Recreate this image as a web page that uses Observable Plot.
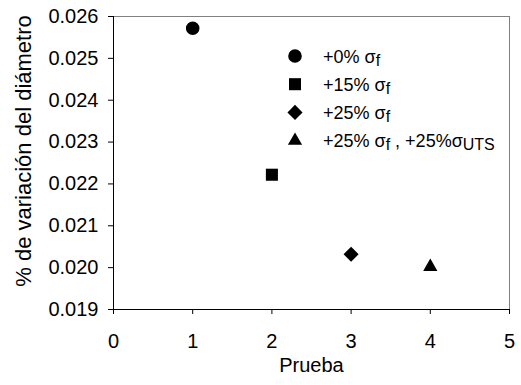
<!DOCTYPE html>
<html>
<head>
<meta charset="utf-8">
<script src="https://cdn.jsdelivr.net/npm/d3@7"></script>
<script src="https://cdn.jsdelivr.net/npm/@observablehq/plot@0.6"></script>
<style>
  html, body { margin: 0; padding: 0; background: #fff; }
  #chart { width: 521px; height: 385px; }
</style>
</head>
<body>
<div id="chart"></div>
<script>
// ---- data ----
const prueba = [1, 2, 3, 4];
const variacion = [0.02572, 0.02222, 0.02032, 0.02002];
const seriesLabels = ["+0% σ_{f}", "+15% σ_{f}", "+25% σ_{f}", "+25% σ_{f} , +25%σ_{UTS}"];
const seriesSymbols = ["circle", "square", "diamond2", "triangle2"];
const xTicks = [0, 1, 2, 3, 4, 5];
const yTicks = [0.019, 0.020, 0.021, 0.022, 0.023, 0.024, 0.025, 0.026];
const xLabel = "Prueba";
const yLabel = "% de variación del diámetro";

const points = prueba.map((p, i) => ({x: p, y: variacion[i], symbol: seriesSymbols[i], label: seriesLabels[i]}));
const xDomain = [xTicks[0], xTicks[xTicks.length - 1]];
const yDomain = [yTicks[0], yTicks[yTicks.length - 1]];

const FONT = "'Liberation Sans', Arial, sans-serif";
const R = 6.8;

const svg = Plot.plot({
  width: 521,
  height: 385,
  marginLeft: 113,
  marginRight: 12,
  marginTop: 16,
  marginBottom: 76,
  style: {fontFamily: FONT, fontSize: "20px", color: "#000", background: "#fff", overflow: "visible"},
  x: {domain: xDomain, ticks: xTicks, tickFormat: d3.format("d"), tickSize: 5, tickPadding: 19, label: null},
  y: {domain: yDomain, ticks: yTicks, tickFormat: d3.format(".3f"), tickSize: 5, tickPadding: 10, label: null},
  symbol: {type: "identity"},
  marks: [
    Plot.ruleY([yDomain[1]], {stroke: "#808080"}),
    Plot.ruleX([xDomain[1]], {stroke: "#808080"}),
    Plot.ruleY([yDomain[0]], {stroke: "#000"}),
    Plot.ruleX([xDomain[0]], {stroke: "#000"}),
    Plot.dot(points, {x: "x", y: "y", symbol: "symbol", r: R, fill: "#000", stroke: "none"}),
    Plot.text([xLabel], {text: d => d, frameAnchor: "bottom", textAnchor: "middle", dy: 62, fontSize: 20, fill: "#000"}),
    Plot.text([yLabel], {text: d => d, frameAnchor: "left", textAnchor: "middle", rotate: -90, dx: -90, dy: -12, fontSize: 22, fill: "#000"})
  ]
});

// ---- legend ----
const symbolMap = {
  circle: d3.symbolCircle,
  square: d3.symbolSquare,
  diamond2: d3.symbolDiamond2 || d3.symbolDiamond,
  triangle2: d3.symbolTriangle2 || d3.symbolTriangle
};
const legendX = 295, legendTextX = 323, legendTop = 56, legendStep = 28.2;
const lg = d3.select(svg).append("g")
  .attr("font-family", FONT).attr("font-size", 18).attr("fill", "#000")
  .attr("text-anchor", "start");
seriesLabels.forEach((label, i) => {
  const cy = legendTop + i * legendStep;
  lg.append("path")
    .attr("transform", `translate(${legendX},${cy})`)
    .attr("d", d3.symbol(symbolMap[seriesSymbols[i]], Math.PI * R * R)());
  const t = lg.append("text").attr("x", legendTextX).attr("y", cy + 6.5).attr("text-anchor", "start");
  const re = /_\{([^}]*)\}/g;
  let last = 0, m, pendingDy = 0;
  while ((m = re.exec(label)) !== null) {
    if (m.index > last) {
      const s = t.append("tspan").text(label.slice(last, m.index));
      if (pendingDy) s.attr("dy", pendingDy);
    }
    t.append("tspan").attr("font-size", 16).attr("dy", m.index > last || !pendingDy ? 3 : 0).text(m[1]);
    pendingDy = -3;
    last = re.lastIndex;
  }
  if (last < label.length) {
    const s = t.append("tspan").text(label.slice(last));
    if (pendingDy) s.attr("dy", pendingDy);
  }
});

document.getElementById("chart").appendChild(svg);
</script>
</body>
</html>
